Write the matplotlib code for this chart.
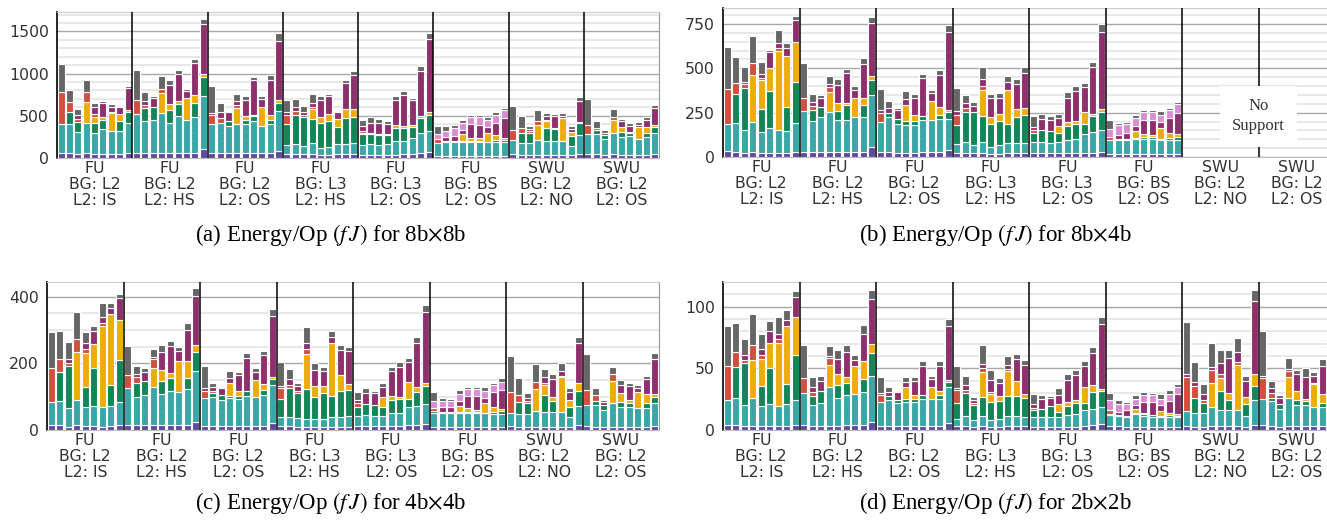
import numpy as np
import matplotlib
matplotlib.use("Agg")
from matplotlib import pyplot as plt
from matplotlib.ticker import MultipleLocator

# stacked energy components, bottom to top
components = ["base", "teal", "green", "orange", "red", "magenta", "orchid", "gray"]
colors = ["#5f48a0", "#3aa6a5", "#138657", "#eeac08", "#cf503e", "#8f306e", "#da8cd4", "#666666"]

groups = ["FU\nBG: L2\nL2: IS", "FU\nBG: L2\nL2: HS", "FU\nBG: L2\nL2: OS", "FU\nBG: L3\nL2: HS",
          "FU\nBG: L3\nL2: OS", "FU\nBG: BS\nL2: OS", "SWU\nBG: L2\nL2: NO", "SWU\nBG: L2\nL2: OS"]

# one row per bar: base, teal, green, orange, red, magenta, orchid, gray
e_8x8 = [
    # FU L2 IS
    [55, 345, 0, 0, 380, 0, 0, 330], [55, 345, 145, 0, 120, 0, 0, 145], [45, 265, 120, 0, 30, 50, 0, 70],
    [55, 360, 0, 245, 120, 0, 0, 150], [45, 255, 110, 80, 30, 80, 0, 50], [50, 290, 110, 30, 0, 170, 0, 30],
    [45, 275, 0, 210, 20, 50, 0, 40], [50, 275, 115, 80, 0, 80, 0, 20], [55, 355, 130, 25, 0, 265, 0, 20],
    # FU L2 HS
    [60, 465, 0, 0, 160, 0, 0, 355], [55, 380, 155, 0, 40, 50, 0, 100], [55, 400, 145, 0, 0, 115, 0, 25],
    [55, 480, 0, 235, 50, 0, 0, 150], [55, 365, 150, 75, 0, 215, 0, 60], [55, 445, 140, 30, 0, 330, 0, 40],
    [55, 395, 0, 260, 0, 85, 0, 25], [60, 430, 160, 100, 0, 370, 0, 50], [110, 630, 220, 40, 0, 590, 0, 60],
    # FU L2 OS
    [55, 345, 0, 0, 110, 20, 0, 320], [55, 365, 0, 0, 50, 80, 0, 100], [55, 325, 60, 0, 0, 100, 0, 20],
    [55, 345, 0, 190, 40, 40, 0, 90], [55, 345, 45, 55, 0, 190, 0, 50], [55, 381, 60, 10, 0, 415, 0, 43],
    [55, 325, 0, 220, 0, 100, 0, 30], [55, 350, 40, 60, 0, 420, 0, 55], [80, 480, 90, 40, 0, 700, 0, 90],
    # FU L3 HS
    [50, 100, 250, 0, 110, 30, 0, 150], [50, 120, 340, 0, 50, 40, 0, 100], [45, 95, 340, 0, 30, 40, 0, 70],
    [50, 130, 280, 120, 30, 40, 0, 110], [40, 80, 290, 80, 0, 200, 0, 50], [40, 90, 310, 80, 0, 210, 0, 30],
    [50, 120, 200, 90, 0, 80, 0, 20], [50, 120, 300, 110, 0, 310, 0, 40], [45, 135, 310, 90, 0, 400, 0, 50],
    # FU L3 OS
    [40, 110, 130, 20, 20, 60, 0, 70], [40, 120, 120, 20, 0, 120, 0, 60], [40, 110, 120, 20, 0, 120, 0, 50],
    [40, 120, 110, 20, 0, 110, 0, 40], [40, 160, 160, 30, 0, 300, 0, 40], [45, 155, 160, 25, 0, 365, 0, 40],
    [50, 190, 130, 25, 0, 290, 0, 25], [60, 240, 170, 30, 0, 530, 0, 60], [70, 250, 190, 40, 0, 860, 0, 70],
    # FU BS OS
    [25, 155, 0, 0, 40, 0, 70, 90], [25, 165, 10, 0, 0, 50, 70, 55], [25, 165, 10, 0, 0, 55, 100, 35],
    [25, 160, 15, 80, 0, 50, 90, 30], [25, 160, 15, 40, 0, 160, 90, 25], [25, 160, 20, 30, 0, 160, 85, 25],
    [25, 160, 10, 100, 0, 70, 90, 30], [25, 160, 25, 60, 0, 150, 85, 45], [25, 160, 25, 25, 0, 240, 90, 30],
    # SWU L2 NO
    [45, 170, 0, 0, 120, 0, 0, 280], [30, 145, 125, 0, 60, 0, 0, 135], [30, 150, 120, 0, 20, 20, 0, 40],
    [40, 175, 0, 180, 40, 0, 0, 130], [35, 165, 160, 80, 10, 50, 0, 30], [35, 165, 140, 0, 10, 150, 0, 25],
    [35, 165, 0, 270, 0, 30, 0, 30], [30, 115, 115, 50, 0, 30, 0, 40], [50, 220, 140, 20, 0, 240, 0, 55],
    # SWU L2 OS
    [45, 235, 0, 0, 110, 0, 0, 305], [45, 235, 50, 0, 30, 0, 0, 80], [35, 185, 50, 0, 0, 30, 0, 30],
    [45, 255, 0, 150, 40, 0, 0, 85], [35, 215, 55, 65, 0, 70, 0, 25], [35, 220, 40, 10, 0, 80, 0, 25],
    [35, 195, 0, 140, 0, 20, 0, 35], [35, 210, 55, 65, 0, 85, 0, 30], [45, 255, 65, 25, 0, 205, 0, 30],
]

e_8x4 = [
    [32, 155, 0, 0, 195, 0, 0, 238], [28, 165, 160, 0, 65, 0, 0, 145], [25, 125, 240, 0, 20, 15, 0, 85],
    [28, 172, 0, 265, 65, 0, 0, 150], [22, 120, 130, 160, 15, 20, 0, 70], [25, 140, 205, 130, 0, 90, 0, 15],
    [20, 135, 0, 445, 15, 25, 0, 75], [25, 120, 135, 290, 0, 45, 0, 25], [30, 160, 235, 225, 0, 125, 0, 20],
    [30, 230, 0, 0, 75, 0, 0, 195], [30, 175, 60, 0, 25, 20, 0, 45], [28, 195, 60, 0, 0, 50, 0, 15],
    [28, 228, 0, 110, 30, 15, 0, 45], [28, 180, 50, 45, 0, 105, 0, 30], [28, 178, 85, 15, 0, 165, 0, 25],
    [28, 200, 0, 105, 0, 45, 0, 25], [28, 200, 65, 40, 0, 190, 0, 35], [55, 295, 85, 20, 0, 300, 0, 35],
    [28, 172, 0, 0, 50, 15, 0, 120], [28, 195, 25, 0, 0, 30, 0, 35], [25, 160, 30, 0, 0, 50, 0, 10],
    [25, 155, 25, 90, 0, 30, 0, 45], [25, 155, 25, 30, 0, 100, 0, 18], [28, 180, 25, 0, 0, 210, 0, 27],
    [28, 180, 0, 110, 0, 45, 0, 17], [28, 185, 25, 42, 0, 180, 0, 28], [37, 175, 40, 15, 0, 435, 0, 40],
    [22, 50, 110, 0, 55, 20, 0, 130], [22, 60, 170, 0, 25, 25, 0, 45], [20, 50, 185, 0, 0, 30, 0, 25],
    [25, 60, 145, 150, 20, 40, 0, 70], [15, 41, 132, 37, 0, 105, 0, 23], [15, 50, 140, 40, 0, 90, 0, 25],
    [20, 60, 105, 195, 0, 45, 0, 30], [20, 60, 145, 45, 0, 140, 0, 30], [20, 60, 155, 40, 0, 200, 0, 30],
    [20, 65, 50, 0, 15, 20, 0, 60], [20, 65, 65, 0, 0, 65, 0, 30], [20, 60, 65, 0, 0, 65, 0, 20],
    [20, 65, 50, 40, 0, 45, 0, 25], [20, 75, 80, 20, 0, 140, 0, 30], [20, 80, 85, 20, 0, 165, 0, 30],
    [22, 110, 55, 65, 0, 145, 0, 20], [22, 120, 88, 15, 0, 260, 0, 30], [30, 125, 100, 15, 0, 435, 0, 45],
    [18, 80, 0, 0, 15, 0, 45, 50], [18, 80, 5, 0, 0, 20, 55, 15], [18, 80, 5, 0, 0, 35, 50, 10],
    [18, 85, 5, 40, 0, 25, 45, 17], [18, 85, 8, 20, 0, 75, 45, 15], [18, 85, 8, 15, 0, 80, 45, 12],
    [18, 80, 5, 60, 0, 35, 40, 20], [18, 80, 10, 30, 0, 80, 45, 15], [18, 80, 15, 15, 0, 120, 50, 12],
    # SWU groups: no support
] + [[0] * 8] * 18

e_4x4 = [
    [15, 68, 0, 0, 102, 0, 0, 110], [15, 72, 88, 0, 37, 0, 0, 86], [10, 57, 125, 0, 10, 10, 0, 53],
    [15, 75, 0, 145, 38, 0, 0, 82], [12, 56, 62, 102, 12, 16, 0, 35], [12, 60, 115, 70, 0, 40, 0, 15],
    [10, 60, 0, 242, 8, 20, 0, 40], [12, 60, 63, 212, 0, 20, 0, 15], [14, 70, 125, 122, 0, 65, 0, 12],
    [15, 110, 0, 0, 40, 0, 0, 87], [15, 85, 40, 0, 18, 10, 0, 25], [15, 90, 43, 0, 0, 27, 0, 10],
    [15, 115, 0, 57, 25, 6, 0, 25], [15, 93, 38, 33, 0, 55, 0, 21], [15, 103, 38, 15, 0, 80, 0, 17],
    [15, 100, 0, 93, 0, 28, 0, 12], [15, 107, 35, 50, 0, 92, 0, 23], [25, 153, 55, 22, 0, 148, 0, 22],
    [12, 83, 0, 0, 22, 10, 0, 65], [12, 86, 12, 0, 6, 12, 0, 14], [12, 78, 14, 0, 0, 22, 0, 4],
    [12, 83, 7, 40, 0, 14, 0, 22], [12, 80, 10, 16, 0, 47, 0, 10], [12, 90, 15, 0, 0, 98, 0, 17],
    [12, 86, 0, 52, 0, 25, 0, 10], [12, 93, 15, 18, 0, 87, 0, 13], [20, 115, 18, 5, 0, 185, 0, 19],
    [12, 26, 54, 0, 35, 5, 0, 73], [12, 28, 85, 0, 10, 17, 0, 30], [10, 25, 77, 0, 6, 14, 0, 8],
    [10, 22, 92, 105, 13, 18, 0, 50], [8, 24, 68, 33, 0, 47, 0, 20], [8, 24, 78, 22, 0, 45, 0, 13],
    [10, 30, 62, 158, 0, 20, 0, 18], [10, 30, 78, 48, 0, 73, 0, 16], [10, 32, 78, 18, 0, 98, 0, 14],
    [12, 31, 25, 0, 12, 10, 0, 25], [12, 33, 33, 0, 0, 33, 0, 14], [12, 30, 33, 0, 0, 35, 0, 8],
    [12, 30, 28, 28, 0, 30, 0, 12], [12, 38, 40, 12, 0, 75, 0, 11], [12, 40, 42, 6, 0, 90, 0, 13],
    [15, 53, 25, 50, 0, 62, 0, 10], [15, 57, 42, 14, 0, 132, 0, 20], [18, 60, 54, 8, 0, 215, 0, 20],
    [10, 42, 5, 0, 10, 0, 20, 28], [10, 42, 3, 0, 0, 13, 20, 9], [10, 42, 3, 0, 0, 15, 18, 4],
    [10, 42, 3, 18, 0, 15, 20, 12], [10, 42, 3, 12, 0, 34, 23, 6], [10, 40, 3, 8, 0, 40, 22, 7],
    [10, 40, 2, 30, 0, 15, 20, 11], [10, 38, 5, 17, 0, 43, 23, 4], [10, 38, 8, 8, 0, 57, 22, 12],
    [12, 40, 0, 0, 63, 0, 0, 107], [10, 38, 37, 0, 20, 0, 0, 50], [10, 38, 32, 0, 8, 8, 0, 16],
    [10, 47, 0, 65, 23, 0, 0, 53], [10, 45, 50, 29, 8, 17, 0, 24], [10, 45, 33, 10, 0, 56, 0, 14],
    [10, 45, 0, 103, 3, 17, 0, 22], [10, 28, 32, 20, 0, 25, 0, 10], [15, 57, 45, 23, 0, 120, 0, 20],
    [12, 63, 0, 0, 45, 0, 0, 108], [10, 65, 12, 0, 18, 0, 0, 20], [10, 50, 15, 0, 0, 10, 0, 5],
    [10, 72, 0, 65, 20, 0, 0, 21], [10, 60, 15, 25, 0, 25, 0, 15], [10, 58, 14, 8, 0, 42, 0, 8],
    [10, 55, 0, 50, 0, 10, 0, 10], [10, 56, 14, 28, 0, 44, 0, 10], [12, 68, 18, 10, 0, 104, 0, 18],
]

e_2x2 = [
    [4, 20, 0, 0, 28, 0, 0, 32], [4, 22, 25, 0, 12, 0, 0, 24], [3, 17, 34, 0, 3, 4, 0, 13],
    [3, 23, 0, 31, 12, 0, 0, 25], [3, 16.5, 16, 22, 3, 5, 0, 12], [3, 18, 29.5, 20, 0, 9.5, 0, 8],
    [3, 16.5, 0, 51, 3, 4, 0, 14], [3, 18, 16, 47, 0, 5, 0, 8.3], [4, 20, 37, 31, 0, 15.5, 0, 5.5],
    [4, 26, 0, 0, 12, 0, 0, 27], [3, 17, 7.6, 0, 3, 4, 0, 8], [3, 18.6, 10.4, 0, 0, 8, 0, 3.8],
    [3, 31.6, 0, 17.7, 6, 2, 0, 8], [3, 23, 10.5, 8.7, 0, 12, 0, 8], [4, 24.4, 10, 4.2, 0, 21, 0, 5.4],
    [4, 25, 0, 22.7, 0, 5, 0, 4], [4, 27, 10, 14.6, 0, 22.5, 0, 7], [6.8, 37, 19, 7.3, 0, 36.5, 0, 7],
    [3, 20, 0, 0, 5, 2, 0, 12.7], [3, 21, 3.6, 0, 0, 3.4, 0, 3.6], [3, 19, 2.6, 0, 0, 6.4, 0, 0],
    [3, 20, 2, 9.6, 0, 4.6, 0, 4], [3, 20, 2, 3, 0, 12, 0, 2.7], [3, 21.8, 3.6, 0, 0, 23.5, 0, 4.3],
    [3, 22, 0, 10, 0, 6.5, 0, 2.3], [3, 22, 3, 3.5, 0, 20.3, 0, 4.4], [5.5, 29, 4.5, 1.5, 0, 44, 0, 5.2],
    [3, 6, 12.5, 0, 11, 1.5, 0, 18], [3, 8.4, 18.3, 0, 3, 3.5, 0, 7.6], [2.5, 5.5, 12, 0, 1.7, 3, 0, 2.3],
    [3, 8.4, 15.6, 20.4, 3, 3, 0, 15.6], [2.7, 5.3, 15, 6.5, 1, 10.3, 0, 7.8], [2.7, 6, 15.2, 3.3, 0, 10.8, 0, 3.9],
    [3, 8, 16.5, 20, 2, 3.5, 0, 7], [3, 8, 16.8, 11.6, 0, 18.5, 0, 4], [3, 7.3, 15.4, 3.5, 0, 23.8, 0, 3.8],
    [2.7, 8, 5.5, 0, 2, 3, 0, 8], [2.7, 8, 6.5, 0, 0, 8, 0, 3.2], [2.7, 8, 8.5, 0, 0, 7, 0, 1.4],
    [2.7, 8, 4, 6.5, 0, 7, 0, 5.6], [2.7, 9.5, 7.3, 3, 0, 18.4, 0, 4.2], [2.7, 10.3, 9, 2, 0, 21, 0, 3.6],
    [3, 13, 5.5, 13, 0, 17, 0, 4.7], [4, 12.8, 14.3, 5, 0, 26.5, 0, 5], [4.9, 13.5, 13, 1.5, 0, 53, 0, 6],
    [3, 9.5, 0.5, 0, 3.5, 0, 7.5, 6.3], [3, 8, 1, 0, 0, 3, 6, 3.3], [2.7, 7.6, 1, 0, 0, 5, 5, 1.7],
    [2.7, 10.3, 1, 3, 0, 3.5, 4.5, 3.4], [2.7, 8.7, 1.5, 1, 0, 9, 5.5, 2.7], [2.7, 8, 1.5, 0, 0, 10.8, 5.5, 1.8],
    [2.7, 7.6, 1, 4.3, 0, 4.5, 5.4, 3.7], [2.7, 7.6, 1.5, 2, 0, 10, 5.3, 3.3], [2.7, 7.6, 1.2, 1.2, 0, 16.7, 5.4, 2.5],
    [3, 12.7, 0, 0, 27.6, 2, 0, 42.5], [2.7, 11, 12, 0, 10, 3, 0, 16.7], [2.7, 11.3, 7.5, 0, 2.5, 5, 0, 8.3],
    [3, 15.4, 0, 20, 10, 3, 0, 19.4], [3, 13.5, 15, 11, 3, 9, 0, 10.4], [3, 13.5, 7.5, 6, 0, 28, 0, 6.9],
    [3, 13.5, 0, 36, 3, 8, 0, 11.5], [2.7, 8.5, 9.8, 5.6, 0, 13, 0, 4.2], [4, 20, 11.4, 10, 0, 59.5, 0, 9],
    [4, 21, 0, 0, 17, 2, 0, 36.5], [3.2, 20, 2.5, 0, 4, 4, 0, 6.3], [2.7, 14, 4, 0, 0, 5.5, 0, 2.2],
    [3.2, 22.5, 0, 17.3, 4.5, 2, 0, 8.5], [3.2, 17, 4, 7.8, 0, 13.5, 0, 3.5], [3.2, 17, 3.5, 1.5, 0, 18, 0, 6.8],
    [3.2, 15.2, 0, 19, 1, 5, 0, 3.9], [3.2, 15.7, 3, 7.3, 0, 23, 0, 5.1], [3.5, 20, 4, 3, 0, 54, 0, 5.2],
]

captions = [r"(a) Energy/Op $(f\,J)$ for 8b$\times$8b", r"(b) Energy/Op $(f\,J)$ for 8b$\times$4b",
            r"(c) Energy/Op $(f\,J)$ for 4b$\times$4b", r"(d) Energy/Op $(f\,J)$ for 2b$\times$2b"]

plt.rcParams['font.family'] = ['DejaVu Sans']
plt.rcParams['mathtext.fontset'] = 'stix'

W, H = 1327, 523
fig = plt.figure(figsize=(W / 100, H / 100), dpi=100)

# (data, [left, top, right, bottom] px, ymax, major, minor, caption xy px)
panels = [
    (e_8x8, (57, 12, 659, 158), 1730, 500, 100, (331, 235)),
    (e_8x4, (723, 8, 1335, 157), 840, 250, 50, (995, 235)),
    (e_4x4, (47, 282, 659, 430), 444, 200, 50, (331, 503)),
    (e_2x2, (723, 282, 1335, 430), 120, 50, 10, (995, 503)),
]

nbar = 9
for i, (data, box, ymax, major, minor, cap) in enumerate(panels):
    l, t, r, b = box
    ax = fig.add_axes([l / W, 1 - b / H, (r - l) / W, (b - t) / H])
    vals = np.array(data, dtype=float)
    x = np.array([g * nbar + j + 0.5 for g in range(len(groups)) for j in range(nbar)])
    bottom = np.zeros(len(x))
    for k in range(len(components)):
        h = vals[:, k]
        m = h > 0
        ax.bar(x[m], h[m], bottom=bottom[m], width=0.84, color=colors[k],
               edgecolor="white", linewidth=0.8, zorder=2)
        bottom += h
    for g in range(1, len(groups)):
        ax.axvline(g * nbar, color="black", lw=1.1, zorder=3)

    ax.set_xlim(0, nbar * len(groups))
    ax.set_ylim(0, ymax)
    ax.yaxis.set_major_locator(MultipleLocator(major))
    ax.yaxis.set_minor_locator(MultipleLocator(minor))
    ax.set_axisbelow(True)
    ax.yaxis.grid(True, which="major", color="#a8a8a8", lw=1.0)
    ax.yaxis.grid(True, which="minor", color="#e4e4e4", lw=1.2)
    ax.set_xticks([g * nbar + nbar / 2 for g in range(len(groups))])
    ax.set_xticklabels(groups)
    ax.tick_params(axis="both", which="both", length=0, labelsize=11.3, colors="#333333")
    ax.tick_params(axis="x", pad=2.5)
    ax.tick_params(axis="y", pad=6)
    for lab in ax.get_xticklabels():
        lab.set_linespacing(1.08)
    ax.spines["left"].set_color("black")
    ax.spines["left"].set_linewidth(1.2)
    ax.spines["top"].set_color("#cccccc")
    ax.spines["right"].set_color("#999999")
    ax.spines["bottom"].set_color("#bbbbbb")

    if i == 1:
        ax.text(nbar * 7, 230, "No\nSupport", ha="center", va="center", fontsize=12,
                family="Liberation Serif", color="#333333", linespacing=1.35, zorder=6,
                bbox=dict(boxstyle="square,pad=0.75", facecolor="white", edgecolor="none"))

    fig.text(cap[0] / W, 1 - cap[1] / H, captions[i], ha="center", va="center",
             fontsize=16.5, family="Liberation Serif", color="black")

fig.savefig("out.png", dpi=100)
